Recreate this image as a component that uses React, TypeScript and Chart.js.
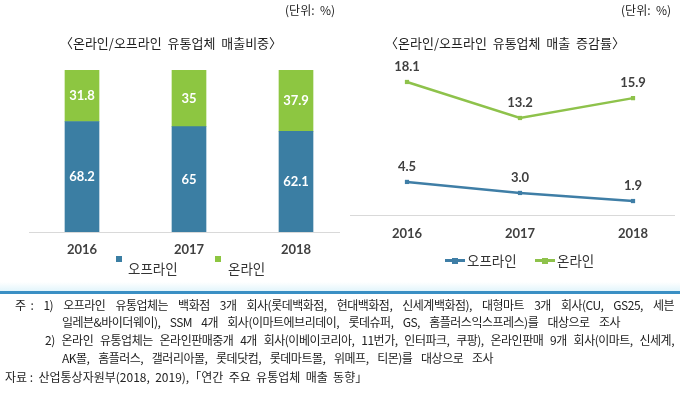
import React, { useEffect, useRef } from "react";
import { Chart, registerables } from "chart.js";

Chart.register(...registerables);

// ---- data ----
const years = ["2016", "2017", "2018"];
const offlineShare = [68.2, 65, 62.1];
const onlineShare = [31.8, 35, 37.9];
const offlineGrowth = [4.5, 3.0, 1.9];
const onlineGrowth = [18.1, 13.2, 15.9];
const seriesNames = ["오프라인", "온라인"];
const shareTitle = "〈온라인/오프라인  유통업체  매출비중〉";
const growthTitle = "〈온라인/오프라인  유통업체  매출  증감률〉";
const unitText = "(단위:  %)";
const noteLines = [
  "주 :  1)  오프라인  유통업체는  백화점  3개  회사(롯데백화점,  현대백화점,  신세계백화점),  대형마트  3개  회사(CU,  GS25,  세븐",
  "일레븐&바이더웨이),  SSM  4개  회사(이마트에브리데이,  롯데슈퍼,  GS,  홈플러스익스프레스)를  대상으로  조사",
  "2)  온라인  유통업체는  온라인판매중개  4개  회사(이베이코리아,  11번가,  인터파크,  쿠팡),  온라인판매  9개  회사(이마트,  신세계,",
  "AK몰,  홈플러스,  갤러리아몰,  롯데닷컴,  롯데마트몰,  위메프,  티몬)를  대상으로  조사",
  "자료 :  산업통상자원부(2018,  2019),「연간  주요  유통업체  매출  동향」",
];

const BLUE = "#3B7EA3";
const GREEN = "#8DC641";
const LBLUE = "#3F7EA6";
const LGREEN = "#8EC24B";
const NUMFONT = "Lato, 'Noto Sans', sans-serif";
const KRFONT = "'Noto Sans CJK KR', 'Noto Sans', sans-serif";

function makeValueLabels(mode: "bar" | "line", color: string, format: (v: number) => string, offset = 0) {
  return {
    id: "valueLabels_" + mode,
    afterDatasetsDraw(chart: any) {
      const ctx = chart.ctx;
      ctx.save();
      ctx.font = "bold 13px " + NUMFONT;
      ctx.fillStyle = color;
      ctx.textAlign = "center";
      ctx.textBaseline = "middle";
      chart.data.datasets.forEach((ds: any, i: number) => {
        const meta = chart.getDatasetMeta(i);
        meta.data.forEach((el: any, j: number) => {
          const v = ds.data[j] as number;
          const y = mode === "bar" ? (el.y + el.base) / 2 : el.y - offset;
          ctx.fillText(format(v), el.x, y);
        });
      });
      ctx.restore();
    },
  };
}

function makeBaseline(x0: number, x1: number) {
  return {
    id: "baseline",
    beforeDatasetsDraw(chart: any) {
      const ctx = chart.ctx;
      const y = Math.round(chart.chartArea.bottom) + 0.5;
      ctx.save();
      ctx.strokeStyle = "#d9d9d9";
      ctx.lineWidth = 1;
      ctx.beginPath();
      ctx.moveTo(x0, y);
      ctx.lineTo(x1, y);
      ctx.stroke();
      ctx.restore();
    },
  };
}

function ShareChart() {
  const ref = useRef<HTMLCanvasElement>(null);
  useEffect(() => {
    const chart = new Chart(ref.current!, {
      type: "bar",
      data: {
        labels: years,
        datasets: [
          { label: seriesNames[0], data: offlineShare, backgroundColor: BLUE, barThickness: 34 },
          { label: seriesNames[1], data: onlineShare, backgroundColor: GREEN, barThickness: 34 },
        ],
      },
      options: {
        responsive: false,
        animation: false,
        layout: { padding: { left: 28.5, right: 2.5, top: 70, bottom: 17 } },
        plugins: { legend: { display: false }, title: { display: false }, tooltip: { enabled: false } },
        scales: {
          x: {
            stacked: true,
            grid: { display: false, drawTicks: false },
            border: { display: false },
            ticks: { padding: 10.2, color: "#404040", font: { family: NUMFONT, size: 13, weight: "bold" } },
          },
          y: { stacked: true, display: false, min: 0, max: 100 },
        },
      },
      plugins: [makeBaseline(29, 340), makeValueLabels("bar", "#ffffff", (v) => String(v))],
    } as any);
    return () => chart.destroy();
  }, []);
  return (
    <canvas
      ref={ref}
      width={352}
      height={285}
      style={{ position: "absolute", left: 0, top: 0, width: 352, height: 285 }}
    />
  );
}

function GrowthChart() {
  const ref = useRef<HTMLCanvasElement>(null);
  useEffect(() => {
    const chart = new Chart(ref.current!, {
      type: "line",
      data: {
        labels: years,
        datasets: [
          {
            label: seriesNames[0],
            data: offlineGrowth,
            borderColor: LBLUE,
            backgroundColor: LBLUE,
            borderWidth: 2.5,
            pointStyle: "rect",
            pointRadius: 3,
            pointBorderWidth: 0,
          },
          {
            label: seriesNames[1],
            data: onlineGrowth,
            borderColor: LGREEN,
            backgroundColor: LGREEN,
            borderWidth: 2.5,
            pointStyle: "rect",
            pointRadius: 3,
            pointBorderWidth: 0,
          },
        ],
      },
      options: {
        responsive: false,
        animation: false,
        layout: { padding: { left: 67, right: 47, top: 68, bottom: 32 } },
        plugins: { legend: { display: false }, title: { display: false }, tooltip: { enabled: false } },
        scales: {
          x: {
            offset: false,
            grid: { display: false, drawTicks: false },
            border: { display: false },
            ticks: { padding: 11.2, color: "#404040", font: { family: NUMFONT, size: 13, weight: "bold" } },
          },
          y: { display: false, min: 0, max: 20 },
        },
      },
      plugins: [makeBaseline(10, 335), makeValueLabels("line", "#404040", (v) => v.toFixed(1), 15)],
    } as any);
    return () => chart.destroy();
  }, []);
  return (
    <canvas
      ref={ref}
      width={340}
      height={285}
      style={{ position: "absolute", left: 340, top: 0, width: 340, height: 285 }}
    />
  );
}

const abs = (o: React.CSSProperties): React.CSSProperties => ({ position: "absolute", whiteSpace: "pre", ...o });

export default function App() {
  const kr: React.CSSProperties = { fontFamily: KRFONT, color: "#222" };
  return (
    <div style={{ position: "absolute", left: 0, top: 0, width: 680, height: 396, background: "#fff", overflow: "hidden" }}>
      <ShareChart />
      <GrowthChart />
      {/* units */}
      <div style={abs({ ...kr, right: 680 - 335, top: 2, fontSize: 12, lineHeight: "16px" })}>{unitText}</div>
      <div style={abs({ ...kr, right: 680 - 671, top: 2, fontSize: 12, lineHeight: "16px" })}>{unitText}</div>
      {/* titles */}
      <div style={abs({ ...kr, left: 0, width: 342, textAlign: "center", top: 34, fontSize: 13, lineHeight: "18px" })}>{shareTitle}</div>
      <div style={abs({ ...kr, left: 340, width: 330, textAlign: "center", top: 34, fontSize: 13, lineHeight: "18px" })}>{growthTitle}</div>
      {/* left legend */}
      <div style={abs({ left: 116, top: 256, width: 6, height: 6, background: BLUE })} />
      <div style={abs({ ...kr, color: "#333", left: 128, top: 259, fontSize: 13.5, lineHeight: "18px" })}>{seriesNames[0]}</div>
      <div style={abs({ left: 215, top: 256, width: 6, height: 6, background: GREEN })} />
      <div style={abs({ ...kr, color: "#333", left: 228, top: 259, fontSize: 13.5, lineHeight: "18px" })}>{seriesNames[1]}</div>
      {/* right legend */}
      <div style={abs({ left: 445, top: 259, width: 20, height: 2.5, background: LBLUE })} />
      <div style={abs({ left: 452, top: 257.5, width: 6, height: 6, background: LBLUE })} />
      <div style={abs({ ...kr, color: "#333", left: 467, top: 251, fontSize: 13.5, lineHeight: "18px" })}>{seriesNames[0]}</div>
      <div style={abs({ left: 535, top: 259, width: 20, height: 2.5, background: LGREEN })} />
      <div style={abs({ left: 542, top: 257.5, width: 6, height: 6, background: LGREEN })} />
      <div style={abs({ ...kr, color: "#333", left: 557, top: 251, fontSize: 13.5, lineHeight: "18px" })}>{seriesNames[1]}</div>
      {/* rule */}
      <div style={abs({ left: 0, top: 282, width: 680, height: 9, background: "linear-gradient(#ffffff, #e3f5fb)" })} />
      <div style={abs({ left: 0, top: 291, width: 680, height: 3, background: "#3A8FC4" })} />
      {/* notes */}
      {[
        { left: 15, width: 659, top: 296, justify: true, ls: -0.5 },
        { left: 62, width: 558, top: 313, justify: true, ls: -0.5 },
        { left: 45, width: 629, top: 331, justify: true, ls: -0.5 },
        { left: 62, width: 431, top: 349, justify: true, ls: -0.5 },
        { left: 5, width: 400, top: 368, justify: false, ls: 0 },
      ].map((p, i) => (
        <div
          key={i}
          style={{
            position: "absolute",
            left: p.left,
            top: p.top,
            width: p.width,
            whiteSpace: "pre",
            textAlign: "left",
            textAlignLast: p.justify ? "justify" : "left",
            fontFamily: KRFONT,
            fontSize: 12,
            letterSpacing: p.ls + "px",
            lineHeight: "18px",
            color: "#222",
          } as React.CSSProperties}
        >
          {noteLines[i]}
        </div>
      ))}
    </div>
  );
}
